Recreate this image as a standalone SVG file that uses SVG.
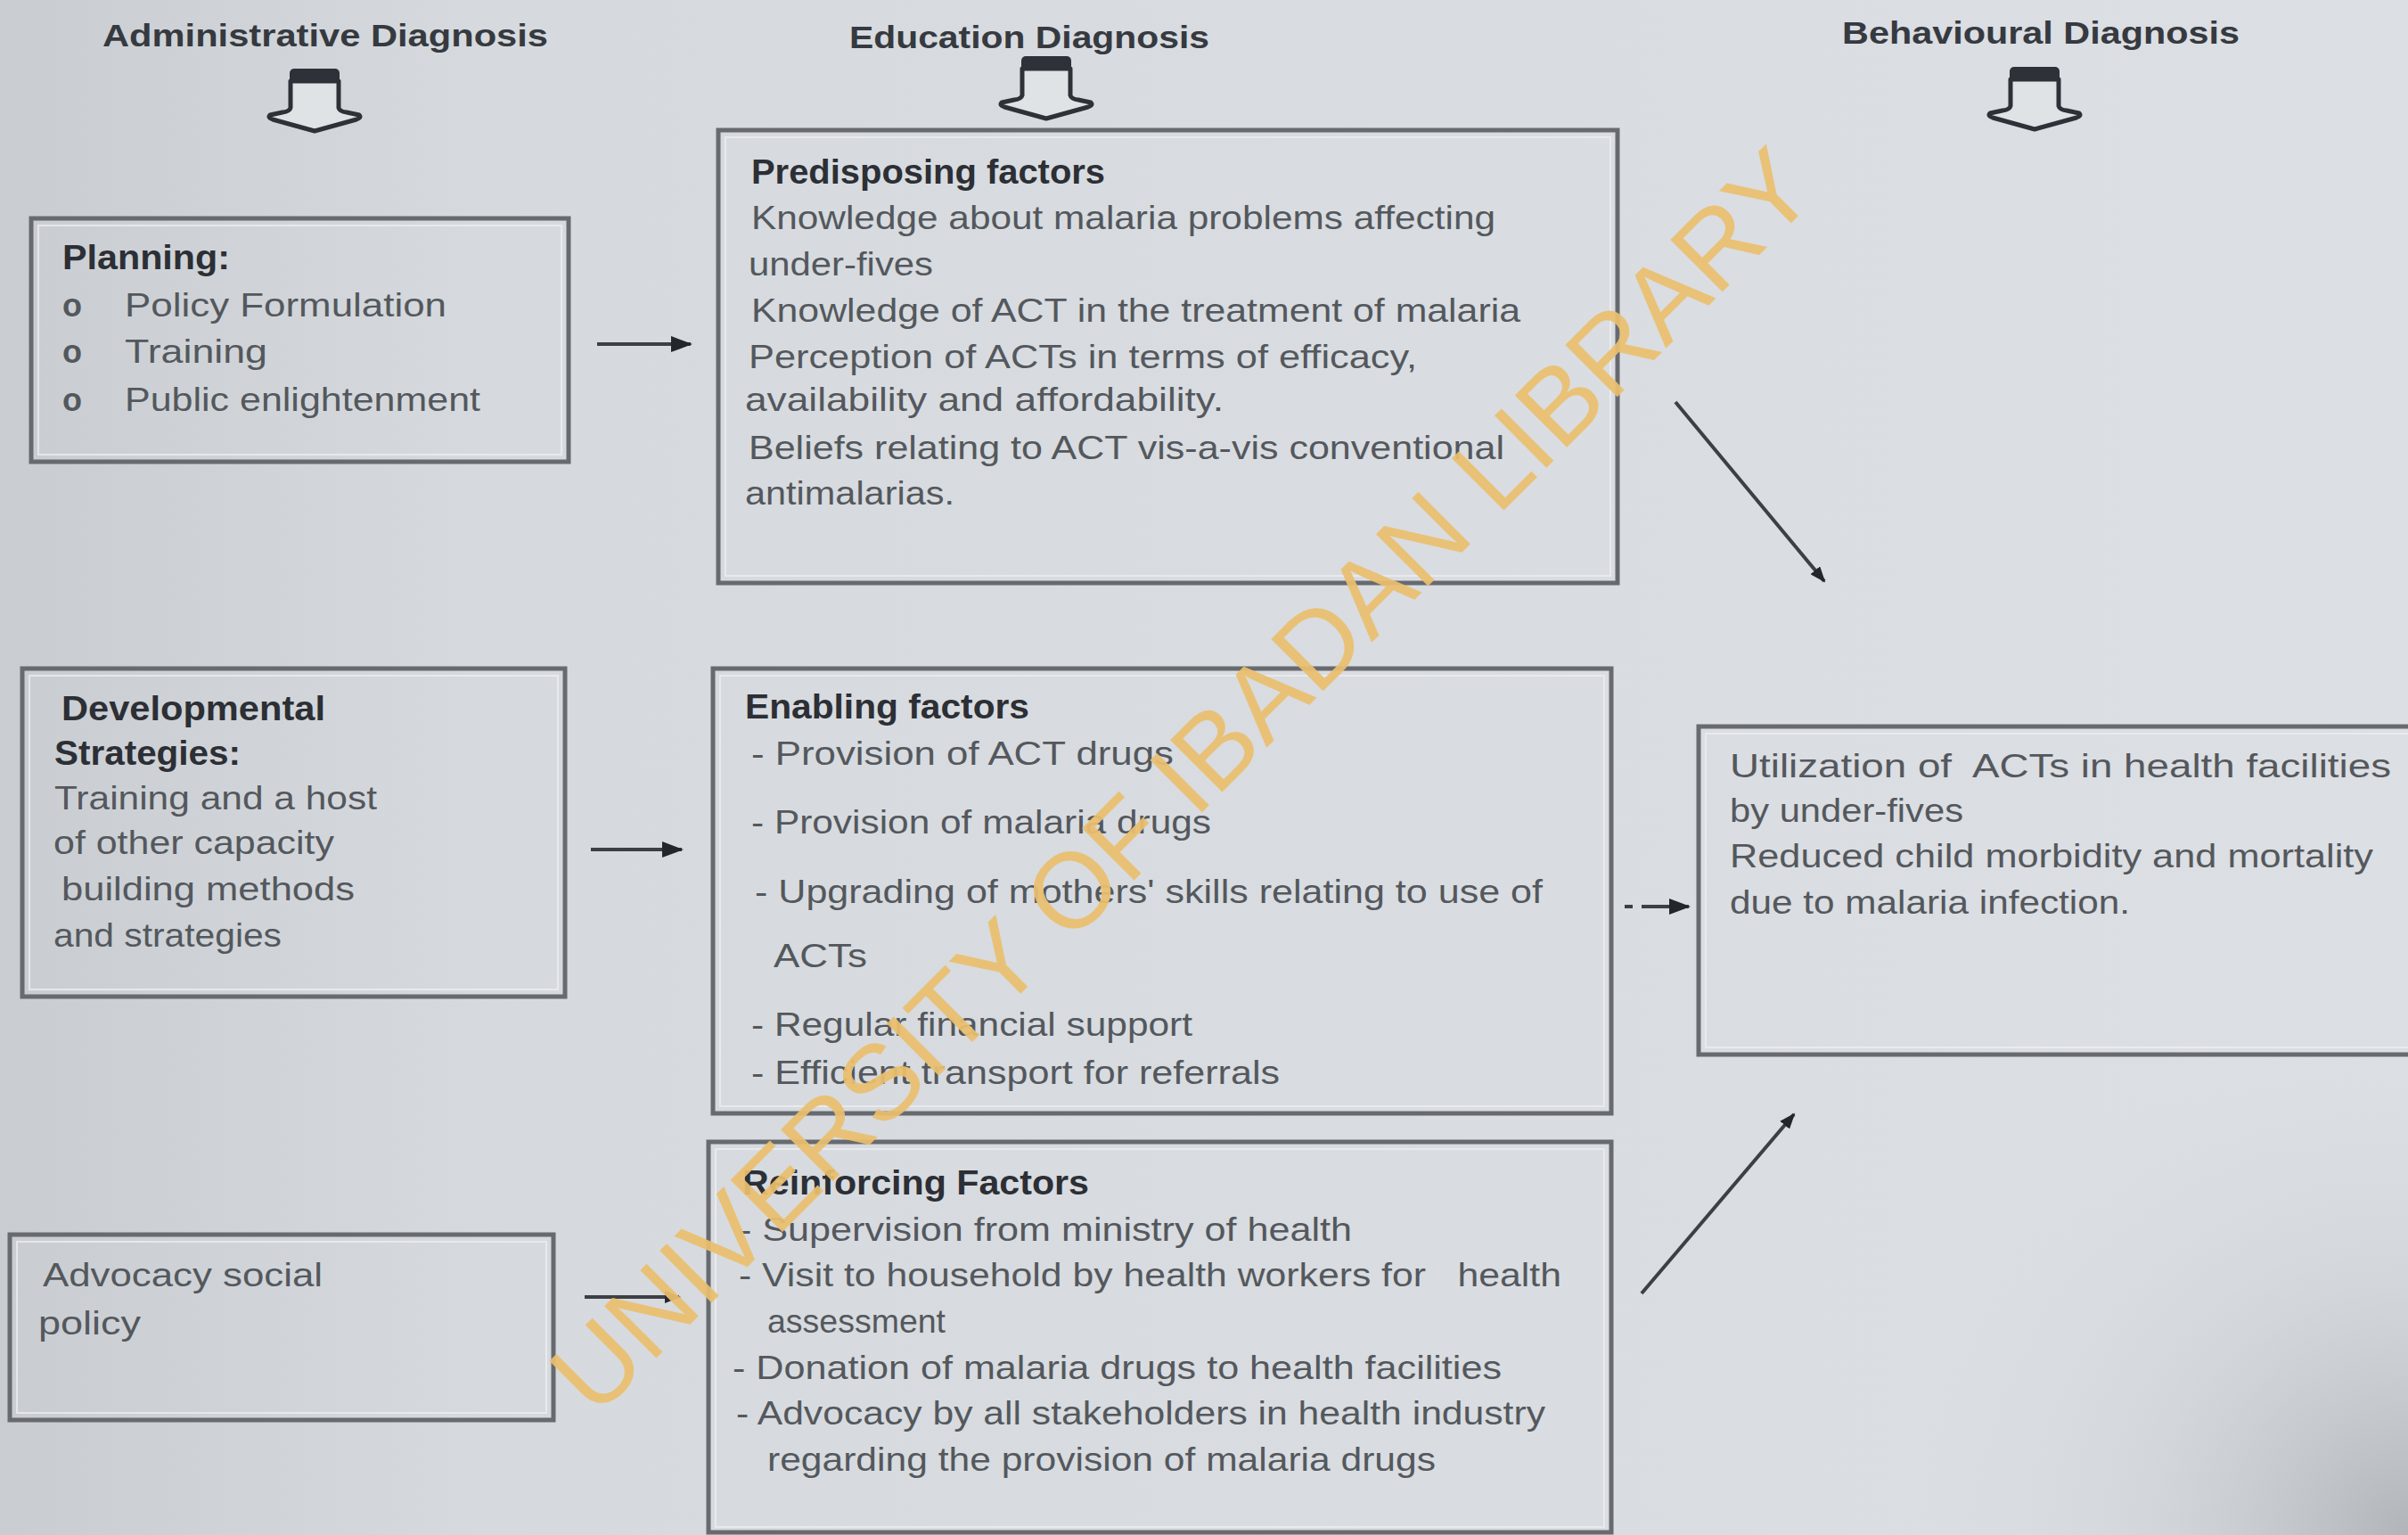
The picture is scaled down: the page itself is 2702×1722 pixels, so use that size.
<svg xmlns="http://www.w3.org/2000/svg" width="2702" height="1722" viewBox="0 0 2702 1722">
<style>
  text { font-family: "Liberation Sans", Arial, sans-serif; }
  .title { font-size: 35px; font-weight: bold; fill: #363a40; }
  .head { font-size: 38px; font-weight: bold; fill: #2c2f35; }
  .body { font-size: 37px; fill: #54585d; }
  .bul { font-size: 36px; font-weight: bold; fill: #54585d; }
  .box { fill: none; stroke: #676a6e; stroke-width: 5; }
  .inner { fill: none; stroke: #eceef0; stroke-width: 2; opacity: 0.8; }
  .conn { stroke: #3c3f44; stroke-width: 4; fill: none; }
  .wm { font-size: 120px; fill: #ebc06f; opacity: 0.93; }
</style>
<defs>
  <linearGradient id="bg" x1="0" y1="0" x2="1" y2="0">
    <stop offset="0" stop-color="#c9cdd1"/>
    <stop offset="0.2" stop-color="#d6dade"/>
    <stop offset="1" stop-color="#dcdfe3"/>
  </linearGradient>
  <radialGradient id="vig" cx="2702" cy="1722" r="600" gradientUnits="userSpaceOnUse">
    <stop offset="0" stop-color="#a9adb2" stop-opacity="0.85"/>
    <stop offset="0.5" stop-color="#c4c8cc" stop-opacity="0.35"/>
    <stop offset="1" stop-color="#dcdfe3" stop-opacity="0"/>
  </radialGradient>
  <marker id="ah" markerUnits="userSpaceOnUse" markerWidth="24" markerHeight="18" refX="22" refY="9" orient="auto">
    <path d="M0,0 L24,9 L0,18 Z" fill="#23262b"/>
  </marker>
  <marker id="ahs" markerUnits="userSpaceOnUse" markerWidth="18" markerHeight="14" refX="16" refY="7" orient="auto">
    <path d="M0,0 L18,7 L0,14 Z" fill="#23262b"/>
  </marker>
  <g id="blockArrow">
    <path d="M-27,14 L-27,44 Q-28,48 -36,49 L-50,52 Q-53,55 -47,57 L0,70 L47,57 Q53,55 50,52 L36,49 Q28,48 27,44 L27,14 Z" fill="#e0e3e6" stroke="#2e3137" stroke-width="5" stroke-linejoin="round"/>
    <rect x="-28" y="0" width="56" height="16" rx="5" fill="#2e3137"/>
  </g>
</defs>

<rect x="0" y="0" width="2702" height="1722" fill="url(#bg)"/>
<rect x="0" y="0" width="2702" height="1722" fill="url(#vig)"/>

<!-- Column headers -->
<g id="header-administrative">
  <text class="title" x="115" y="52" textLength="500" lengthAdjust="spacingAndGlyphs">Administrative Diagnosis</text>
  <use href="#blockArrow" x="353" y="77"/>
</g>
<g id="header-education">
  <text class="title" x="953" y="54" textLength="404" lengthAdjust="spacingAndGlyphs">Education Diagnosis</text>
  <use href="#blockArrow" x="1174" y="63"/>
</g>
<g id="header-behavioural">
  <text class="title" x="2067" y="49" textLength="446" lengthAdjust="spacingAndGlyphs">Behavioural Diagnosis</text>
  <use href="#blockArrow" x="2283" y="75"/>
</g>

<!-- Administrative column -->
<g id="planning">
  <rect class="box" x="35" y="245" width="603" height="273"/>
  <rect class="inner" x="43" y="253" width="587" height="257"/>
  <text class="head" x="70" y="302" textLength="188" lengthAdjust="spacingAndGlyphs">Planning:</text>
  <text class="bul" x="70" y="355">o</text>
  <text class="body" x="140" y="355" textLength="361" lengthAdjust="spacingAndGlyphs">Policy Formulation</text>
  <text class="bul" x="70" y="407">o</text>
  <text class="body" x="140" y="407" textLength="160" lengthAdjust="spacingAndGlyphs">Training</text>
  <text class="bul" x="70" y="461">o</text>
  <text class="body" x="140" y="461" textLength="399" lengthAdjust="spacingAndGlyphs">Public enlightenment</text>
</g>

<g id="developmental">
  <rect class="box" x="25" y="750" width="609" height="368"/>
  <rect class="inner" x="33" y="758" width="593" height="352"/>
  <text class="head" x="69" y="808" textLength="296" lengthAdjust="spacingAndGlyphs">Developmental</text>
  <text class="head" x="61" y="858" textLength="209" lengthAdjust="spacingAndGlyphs">Strategies:</text>
  <text class="body" x="61" y="908" textLength="362" lengthAdjust="spacingAndGlyphs">Training and a host</text>
  <text class="body" x="60" y="958" textLength="315" lengthAdjust="spacingAndGlyphs">of other capacity</text>
  <text class="body" x="69" y="1010" textLength="329" lengthAdjust="spacingAndGlyphs">building methods</text>
  <text class="body" x="60" y="1062" textLength="256" lengthAdjust="spacingAndGlyphs">and strategies</text>
</g>

<g id="advocacy">
  <rect class="box" x="11" y="1385" width="610" height="208"/>
  <rect class="inner" x="19" y="1393" width="594" height="192"/>
  <text class="body" x="48" y="1443" textLength="314" lengthAdjust="spacingAndGlyphs">Advocacy social</text>
  <text class="body" x="43" y="1497" textLength="115" lengthAdjust="spacingAndGlyphs">policy</text>
</g>

<!-- Education column -->
<g id="predisposing">
  <rect class="box" x="806" y="146" width="1009" height="508"/>
  <rect class="inner" x="814" y="154" width="993" height="492"/>
  <text class="head" x="843" y="206" textLength="397" lengthAdjust="spacingAndGlyphs">Predisposing factors</text>
  <text class="body" x="843" y="257" textLength="835" lengthAdjust="spacingAndGlyphs">Knowledge about malaria problems affecting</text>
  <text class="body" x="840" y="309" textLength="207" lengthAdjust="spacingAndGlyphs">under-fives</text>
  <text class="body" x="843" y="361" textLength="863" lengthAdjust="spacingAndGlyphs">Knowledge of ACT in the treatment of malaria</text>
  <text class="body" x="840" y="413" textLength="750" lengthAdjust="spacingAndGlyphs">Perception of ACTs in terms of efficacy,</text>
  <text class="body" x="836" y="461" textLength="537" lengthAdjust="spacingAndGlyphs">availability and affordability.</text>
  <text class="body" x="840" y="515" textLength="848" lengthAdjust="spacingAndGlyphs">Beliefs relating to ACT vis-a-vis conventional</text>
  <text class="body" x="836" y="566" textLength="235" lengthAdjust="spacingAndGlyphs">antimalarias.</text>
</g>

<g id="enabling">
  <rect class="box" x="800" y="750" width="1008" height="499"/>
  <rect class="inner" x="808" y="758" width="992" height="483"/>
  <text class="head" x="836" y="806" textLength="319" lengthAdjust="spacingAndGlyphs">Enabling factors</text>
  <text class="body" x="843" y="858" textLength="474" lengthAdjust="spacingAndGlyphs">- Provision of ACT drugs</text>
  <text class="body" x="843" y="935" textLength="516" lengthAdjust="spacingAndGlyphs">- Provision of malaria drugs</text>
  <text class="body" x="847" y="1013" textLength="884" lengthAdjust="spacingAndGlyphs">- Upgrading of mothers' skills relating to use of</text>
  <text class="body" x="868" y="1085" textLength="105" lengthAdjust="spacingAndGlyphs">ACTs</text>
  <text class="body" x="843" y="1162" textLength="495" lengthAdjust="spacingAndGlyphs">- Regular financial support</text>
  <text class="body" x="843" y="1216" textLength="593" lengthAdjust="spacingAndGlyphs">- Efficient transport for referrals</text>
</g>

<g id="reinforcing">
  <rect class="box" x="795" y="1281" width="1013" height="438"/>
  <rect class="inner" x="803" y="1289" width="997" height="424"/>
  <text class="head" x="833" y="1340" textLength="389" lengthAdjust="spacingAndGlyphs">Reinforcing Factors</text>
  <text class="body" x="829" y="1392" textLength="688" lengthAdjust="spacingAndGlyphs">- Supervision from ministry of health</text>
  <text class="body" x="829" y="1443" textLength="923" lengthAdjust="spacingAndGlyphs" xml:space="preserve">- Visit to household by health workers for   health</text>
  <text class="body" x="861" y="1495" textLength="200" lengthAdjust="spacingAndGlyphs">assessment</text>
  <text class="body" x="822" y="1547" textLength="863" lengthAdjust="spacingAndGlyphs">- Donation of malaria drugs to health facilities</text>
  <text class="body" x="826" y="1598" textLength="908" lengthAdjust="spacingAndGlyphs">- Advocacy by all stakeholders in health industry</text>
  <text class="body" x="861" y="1650" textLength="750" lengthAdjust="spacingAndGlyphs">regarding the provision of malaria drugs</text>
</g>

<!-- Behavioural column -->
<g id="utilization">
  <rect class="box" x="1906" y="815" width="820" height="368"/>
  <rect class="inner" x="1914" y="823" width="810" height="352"/>
  <text class="body" x="1941" y="872" textLength="742" lengthAdjust="spacingAndGlyphs" xml:space="preserve">Utilization of  ACTs in health facilities</text>
  <text class="body" x="1941" y="922" textLength="262" lengthAdjust="spacingAndGlyphs">by under-fives</text>
  <text class="body" x="1941" y="973" textLength="722" lengthAdjust="spacingAndGlyphs">Reduced child morbidity and mortality</text>
  <text class="body" x="1941" y="1025" textLength="449" lengthAdjust="spacingAndGlyphs">due to malaria infection.</text>
</g>

<!-- Connectors -->
<g id="connectors">
  <line class="conn" x1="670" y1="386" x2="775" y2="386" marker-end="url(#ah)"/>
  <line class="conn" x1="663" y1="953" x2="765" y2="953" stroke="#8a8d91" marker-end="url(#ah)"/>
  <line class="conn" x1="656" y1="1455" x2="762" y2="1455" stroke="#55585c" stroke-width="7" marker-end="url(#ahs)"/>
  <line class="conn" x1="1823" y1="1017" x2="1832" y2="1017" stroke-width="3"/>
  <line class="conn" x1="1842" y1="1017" x2="1895" y2="1017" stroke-width="3" marker-end="url(#ah)"/>
  <line class="conn" x1="1880" y1="451" x2="2047" y2="652" stroke="#55585c" stroke-width="3" marker-end="url(#ahs)"/>
  <line class="conn" x1="1842" y1="1451" x2="2013" y2="1250" stroke="#55585c" stroke-width="3" marker-end="url(#ahs)"/>
</g>

<!-- Watermark -->
<text class="wm" x="2042" y="218" text-anchor="end" transform="rotate(-45 2042 218)">UNIVERSITY OF IBADAN LIBRARY</text>
</svg>
